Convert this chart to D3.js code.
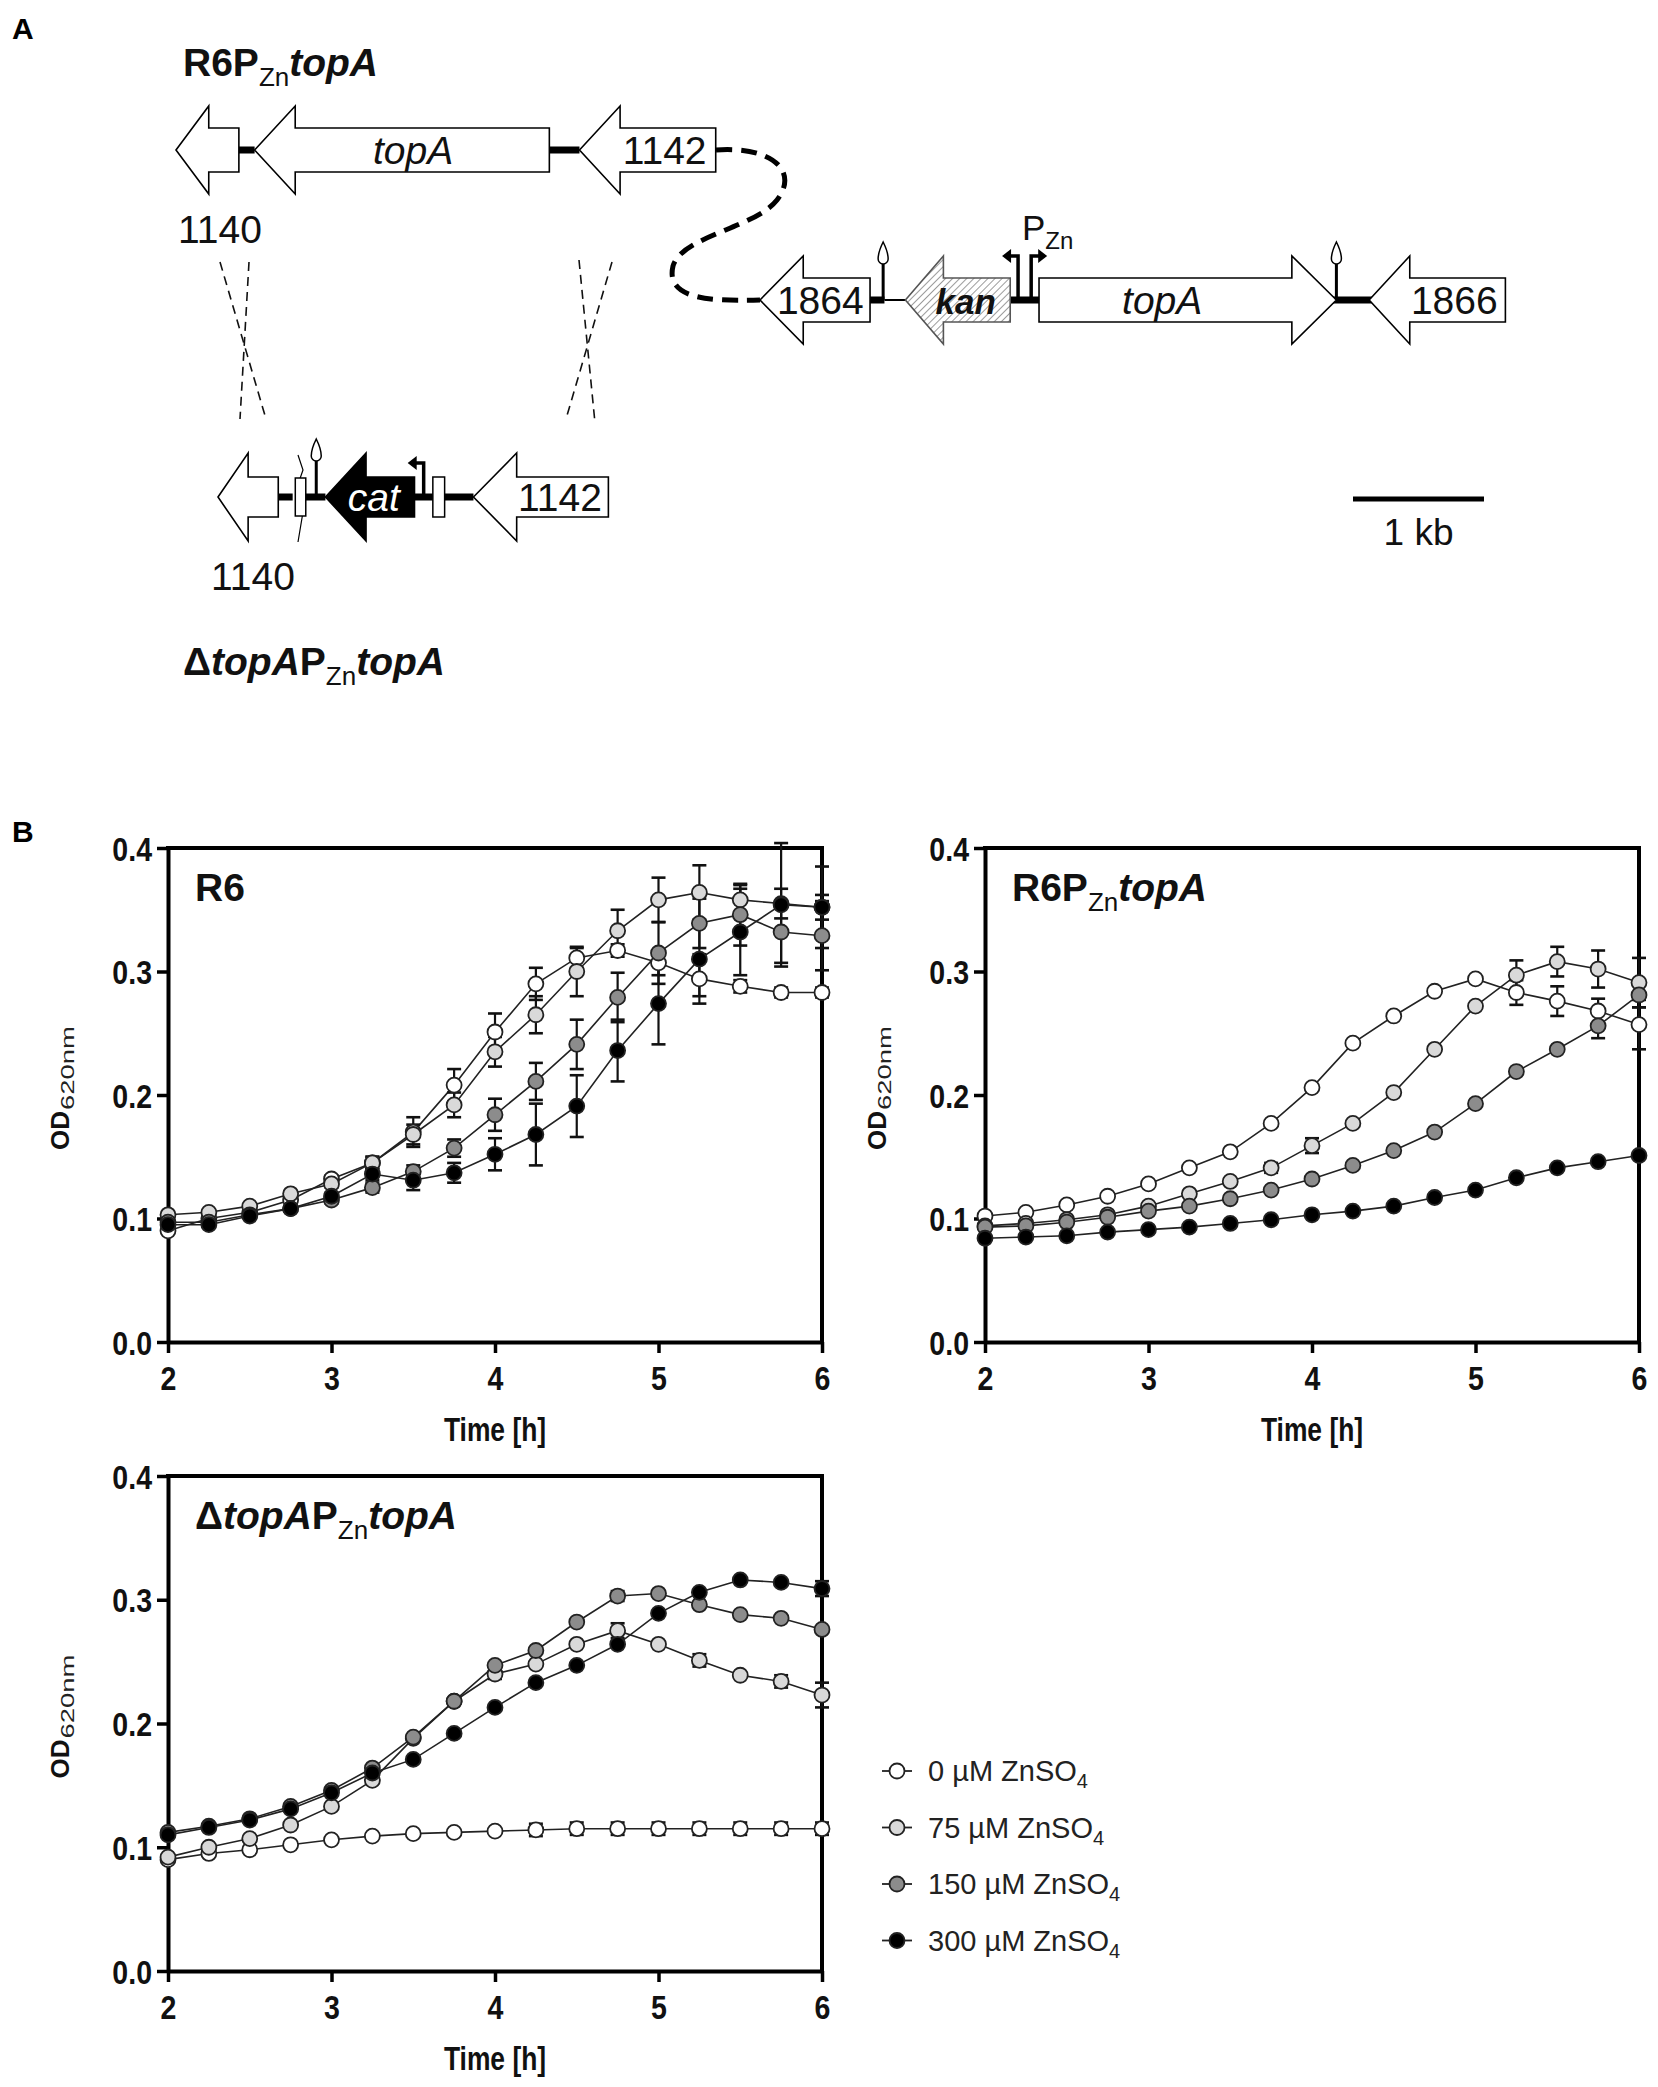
<!DOCTYPE html>
<html>
<head>
<meta charset="utf-8">
<script src="https://cdn.jsdelivr.net/npm/d3@7"></script>
<style>
body { margin: 0; background: #fff; }
svg text { font-family: "Liberation Sans", Arial, sans-serif; }
</style>
</head>
<body>
<svg id="fig" width="1658" height="2087"></svg>
<script>
// ---- growth curves (OD620nm), time in h ----
const times = [2, 2.25, 2.5, 2.75, 3, 3.25, 3.5, 3.75, 4, 4.25, 4.5, 4.75, 5, 5.25, 5.5, 5.75, 6];
const zincConc = [0, 75, 150, 300];
const markerFills = ["#ffffff", "#d9d9d9", "#8c8c8c", "#000000"];

// R6
const r6Mean0   = [0.090, 0.100, 0.105, 0.115, 0.132, 0.145, 0.170, 0.208, 0.251, 0.290, 0.311, 0.317, 0.307, 0.294, 0.288, 0.283, 0.283];
const r6Sd0     = [0, 0, 0, 0, 0.003, 0.005, 0.012, 0.013, 0.015, 0.013, 0.008, 0.005, 0.010, 0.020, 0.005, 0.004, 0.004];
const r6Mean75  = [0.103, 0.105, 0.110, 0.120, 0.128, 0.145, 0.168, 0.192, 0.235, 0.265, 0.300, 0.333, 0.358, 0.364, 0.358, 0.355, 0.352];
const r6Sd75    = [0, 0, 0, 0, 0.003, 0.005, 0.008, 0.010, 0.012, 0.015, 0.020, 0.017, 0.018, 0.022, 0.012, 0.012, 0.010];
const r6Mean150 = [0.097, 0.097, 0.103, 0.108, 0.115, 0.125, 0.138, 0.157, 0.184, 0.211, 0.241, 0.279, 0.315, 0.339, 0.346, 0.332, 0.329];
const r6Sd150   = [0, 0, 0, 0, 0.003, 0.004, 0.005, 0.007, 0.013, 0.015, 0.020, 0.020, 0.025, 0.020, 0.025, 0.025, 0.028];
const r6Mean300 = [0.095, 0.095, 0.102, 0.108, 0.118, 0.136, 0.131, 0.137, 0.152, 0.168, 0.191, 0.236, 0.274, 0.310, 0.332, 0.354, 0.352];
const r6Sd300   = [0, 0, 0, 0, 0.003, 0.005, 0.008, 0.008, 0.013, 0.025, 0.025, 0.025, 0.033, 0.030, 0.035, 0.050, 0.033];

// R6 PZn topA
const pzMean0   = [0.102, 0.105, 0.111, 0.118, 0.128, 0.141, 0.154, 0.177, 0.206, 0.242, 0.264, 0.284, 0.294, 0.283, 0.276, 0.268, 0.257];
const pzSd0     = [0, 0, 0, 0, 0, 0, 0, 0, 0, 0, 0, 0, 0, 0.010, 0.012, 0.010, 0.020];
const pzMean75  = [0.094, 0.096, 0.099, 0.103, 0.110, 0.120, 0.130, 0.141, 0.159, 0.177, 0.202, 0.237, 0.272, 0.297, 0.308, 0.302, 0.291];
const pzSd75    = [0, 0, 0, 0, 0, 0, 0, 0.004, 0.006, 0, 0, 0, 0, 0.012, 0.012, 0.015, 0.020];
const pzMean150 = [0.093, 0.094, 0.097, 0.101, 0.106, 0.110, 0.116, 0.123, 0.132, 0.143, 0.155, 0.170, 0.193, 0.219, 0.237, 0.256, 0.281];
const pzSd150   = [0, 0, 0, 0, 0, 0, 0, 0, 0, 0, 0, 0, 0, 0, 0, 0.010, 0.010];
const pzMean300 = [0.084, 0.085, 0.086, 0.089, 0.091, 0.093, 0.096, 0.099, 0.103, 0.106, 0.110, 0.117, 0.123, 0.133, 0.141, 0.146, 0.151];
const pzSd300   = [0, 0, 0, 0, 0, 0, 0, 0, 0, 0, 0, 0, 0, 0, 0, 0, 0];

// delta topA PZn topA
const dtMean0   = [0.090, 0.095, 0.098, 0.102, 0.106, 0.109, 0.111, 0.112, 0.113, 0.114, 0.115, 0.115, 0.115, 0.115, 0.115, 0.115, 0.115];
const dtSd0     = [0, 0, 0, 0, 0, 0, 0, 0, 0, 0.005, 0.005, 0.005, 0.005, 0.005, 0.005, 0.005, 0.005];
const dtMean75  = [0.092, 0.100, 0.107, 0.118, 0.133, 0.154, 0.188, 0.218, 0.240, 0.248, 0.264, 0.275, 0.264, 0.251, 0.239, 0.234, 0.223];
const dtSd75    = [0, 0, 0, 0, 0, 0, 0, 0, 0.004, 0, 0, 0.006, 0, 0.005, 0, 0.005, 0.010];
const dtMean150 = [0.112, 0.117, 0.123, 0.133, 0.146, 0.164, 0.189, 0.218, 0.247, 0.259, 0.282, 0.303, 0.305, 0.296, 0.288, 0.285, 0.276];
const dtSd150   = [0, 0, 0, 0, 0, 0, 0, 0, 0, 0, 0, 0.004, 0, 0, 0, 0, 0];
const dtMean300 = [0.110, 0.116, 0.122, 0.131, 0.144, 0.160, 0.171, 0.192, 0.213, 0.233, 0.247, 0.264, 0.289, 0.306, 0.316, 0.314, 0.309];
const dtSd300   = [0, 0, 0, 0, 0, 0, 0, 0, 0, 0, 0, 0, 0, 0, 0, 0, 0.006];

const yTicks = [0, 0.1, 0.2, 0.3, 0.4];
const xTicks = [2, 3, 4, 5, 6];

var svg = d3.select("#fig");

// ================= panel A: gene maps =================
var kb = d3.scaleLinear().domain([0, 1]).range([0, 131]);   // 1 kb bar

var rowTop = {x0: 176, y: 150, bh: 22, hh: 44};
var rowIns = {x0: 760, y: 300, bh: 22, hh: 44};
var rowDel = {x0: 218, y: 497, bh: 20, hh: 44};

var genesTop = [
  {a: 0.00, b: 0.48, dir: -1, hl: 0.25, label: null},
  {a: 0.60, b: 2.85, dir: -1, hl: 0.31, label: "topA", lx: 1.81, style: "italic"},
  {a: 3.08, b: 4.12, dir: -1, hl: 0.31, label: "1142", lx: 3.73}
];
var genesIns = [
  {a: 0.00, b: 0.84, dir: -1, hl: 0.33, label: "1864", lx: 0.46},
  {a: 1.11, b: 1.91, dir: -1, hl: 0.29, label: "kan", lx: 1.57, style: "bolditalic", hatch: true},
  {a: 2.13, b: 4.40, dir: 1, hl: 0.34, label: "topA", lx: 3.07, style: "italic"},
  {a: 4.65, b: 5.69, dir: -1, hl: 0.31, label: "1866", lx: 5.30}
];
var genesDel = [
  {a: 0.00, b: 0.46, dir: -1, hl: 0.23, label: null},
  {a: 0.82, b: 1.50, dir: -1, hl: 0.31, label: "cat", lx: 1.19, style: "italic", black: true},
  {a: 1.95, b: 2.98, dir: -1, hl: 0.33, label: "1142", lx: 2.61}
];
var linksTop = [[0.48, 0.60], [2.85, 3.08]];
var linksIns = [[0.84, 0.95], [1.91, 2.13], [4.37, 4.67]];
var linksDel = [[0.46, 0.57], [0.67, 0.82], [1.50, 1.64], [1.73, 1.95]];

var defs = svg.append("defs");
var hatch = defs.append("pattern").attr("id", "hatch").attr("patternUnits", "userSpaceOnUse")
  .attr("width", 5).attr("height", 5).attr("patternTransform", "rotate(45)");
hatch.append("rect").attr("width", 5).attr("height", 5).attr("fill", "#fff");
hatch.append("line").attr("x1", 0).attr("y1", 0).attr("x2", 0).attr("y2", 5).attr("stroke", "#666").attr("stroke-width", 1.3);

var gA = svg.append("g");

function drawLinks(row, links, h) {
  links.forEach(function(l) {
    gA.append("rect").attr("x", row.x0 + kb(l[0])).attr("y", row.y - h / 2)
      .attr("width", kb(l[1] - l[0])).attr("height", h).attr("fill", "#000");
  });
}

function drawGene(row, gn) {
  var L = row.x0 + kb(gn.a), R = row.x0 + kb(gn.b), hl = kb(gn.hl), yc = row.y, bh = row.bh, hh = row.hh;
  var p;
  if (gn.dir < 0) p = [[L, yc], [L + hl, yc - hh], [L + hl, yc - bh], [R, yc - bh], [R, yc + bh], [L + hl, yc + bh], [L + hl, yc + hh]];
  else p = [[R, yc], [R - hl, yc - hh], [R - hl, yc - bh], [L, yc - bh], [L, yc + bh], [R - hl, yc + bh], [R - hl, yc + hh]];
  gA.append("path").attr("d", "M" + p.join("L") + "Z")
    .attr("fill", gn.black ? "#000" : (gn.hatch ? "url(#hatch)" : "#fff"))
    .attr("stroke", gn.hatch ? "#555" : "#000").attr("stroke-width", 1.6);
  if (gn.label) {
    var t = gA.append("text").attr("x", row.x0 + kb(gn.lx)).attr("y", yc + 14)
      .attr("text-anchor", "middle").style("font-size", "39px")
      .attr("fill", gn.black ? "#fff" : "#111").text(gn.label);
    if (gn.style == "italic") t.style("font-style", "italic");
    if (gn.style == "bolditalic") t.style("font-style", "italic").style("font-weight", "bold").style("font-size", "35px");
  }
}

function terminator(row, pos) {
  var x = row.x0 + kb(pos), y0 = row.y - 58;
  gA.append("line").attr("x1", x).attr("x2", x).attr("y1", row.y).attr("y2", y0 + 22)
    .attr("stroke", "#000").attr("stroke-width", 3);
  gA.append("path")
    .attr("d", "M" + x + "," + y0 + " C" + (x + 3) + "," + (y0 + 6) + " " + (x + 5) + "," + (y0 + 12) + " " + (x + 5) + "," + (y0 + 17) +
      " A5,5 0 0 1 " + (x - 5) + "," + (y0 + 17) + " C" + (x - 5) + "," + (y0 + 12) + " " + (x - 3) + "," + (y0 + 6) + " " + x + "," + y0 + "Z")
    .attr("fill", "#fff").attr("stroke", "#000").attr("stroke-width", 1.5);
}

function promoter(row, pos, dir, h) {
  var x = row.x0 + kb(pos), yt = row.y - h;
  gA.append("path").attr("d", "M" + x + "," + row.y + "V" + yt + "H" + (x + dir * 9))
    .attr("fill", "none").attr("stroke", "#000").attr("stroke-width", 3.5);
  gA.append("path").attr("d", "M" + (x + dir * 16) + "," + yt + "L" + (x + dir * 7) + "," + (yt - 7) + "L" + (x + dir * 7) + "," + (yt + 7) + "Z")
    .attr("fill", "#000");
}

// top map: R6 PZn topA
drawLinks(rowTop, linksTop, 7);
genesTop.forEach(function(gn) { drawGene(rowTop, gn); });
gA.append("text").attr("x", 220).attr("y", 243).attr("text-anchor", "middle").style("font-size", "39px").attr("fill", "#111").text("1140");

// insertion at the bgaA locus
drawLinks(rowIns, linksIns, 7);
gA.append("line").attr("x1", rowIns.x0 + kb(0.95)).attr("x2", rowIns.x0 + kb(1.12)).attr("y1", rowIns.y).attr("y2", rowIns.y)
  .attr("stroke", "#000").attr("stroke-width", 2);
genesIns.forEach(function(gn) { drawGene(rowIns, gn); });
terminator(rowIns, 0.94);
terminator(rowIns, 4.40);
promoter(rowIns, 1.97, -1, 44);
promoter(rowIns, 2.07, 1, 44);
gA.append("text").attr("x", 1022).attr("y", 240).style("font-size", "35px").attr("fill", "#111")
  .text("P").append("tspan").attr("dy", 9).style("font-size", "24px").text("Zn");

// deletion map
drawLinks(rowDel, linksDel, 7);
gA.append("path").attr("d", "M298,455 L303,470 L296,490 L303,512 L298,542").attr("fill", "none").attr("stroke", "#000").attr("stroke-width", 1.2);
gA.append("rect").attr("x", rowDel.x0 + kb(0.59)).attr("y", rowDel.y - 19).attr("width", kb(0.08)).attr("height", 38)
  .attr("fill", "#fff").attr("stroke", "#000").attr("stroke-width", 1.5);
genesDel.forEach(function(gn) { drawGene(rowDel, gn); });
gA.append("rect").attr("x", rowDel.x0 + kb(1.64)).attr("y", rowDel.y - 20).attr("width", kb(0.09)).attr("height", 40)
  .attr("fill", "#fff").attr("stroke", "#000").attr("stroke-width", 1.5);
terminator(rowDel, 0.75);
promoter(rowDel, 1.57, -1, 34);
gA.append("text").attr("x", 253).attr("y", 590).attr("text-anchor", "middle").style("font-size", "39px").attr("fill", "#111").text("1140");

// recombination crosses
[[220, 262, 266, 419], [249, 262, 240, 419], [579, 260, 595, 423], [612, 262, 566, 419]].forEach(function(c) {
  gA.append("line").attr("x1", c[0]).attr("y1", c[1]).attr("x2", c[2]).attr("y2", c[3])
    .attr("stroke", "#111").attr("stroke-width", 1.6).attr("stroke-dasharray", "9,6");
});

// dashed connector between maps
gA.append("path")
  .attr("d", "M716,150 C770,146 800,170 777,200 C755,228 682,236 673,266 C666,296 700,302 760,300")
  .attr("fill", "none").attr("stroke", "#000").attr("stroke-width", 5).attr("stroke-dasharray", "16,9");

// scale bar
gA.append("line").attr("x1", 1353).attr("x2", 1353 + kb(1)).attr("y1", 499).attr("y2", 499).attr("stroke", "#000").attr("stroke-width", 5);
gA.append("text").attr("x", 1353 + kb(0.5)).attr("y", 545).attr("text-anchor", "middle").style("font-size", "37px").attr("fill", "#111").text("1 kb");

// strain titles
function strainTitle(g, x, y, parts, size) {
  var t = g.append("text").attr("x", x).attr("y", y).style("font-size", size + "px").style("font-weight", "bold").attr("fill", "#111");
  var shift = 0;
  parts.forEach(function(p) {
    var s = t.append("tspan").text(p.t);
    if (p.sub) { s.attr("dy", 10 - shift).style("font-size", "26px").style("font-weight", "normal"); shift = 10; }
    else { s.attr("dy", -shift); shift = 0; }
    if (p.it) s.style("font-style", "italic");
  });
}
var titleR6 = [{t: "R6"}];
var titlePz = [{t: "R6P"}, {t: "Zn", sub: true}, {t: "topA", it: true}];
var titleDt = [{t: "\u0394"}, {t: "topA", it: true}, {t: "P"}, {t: "Zn", sub: true}, {t: "topA", it: true}];

strainTitle(gA, 183, 76, titlePz, 39);
strainTitle(gA, 183, 675, titleDt, 39);

svg.append("text").attr("x", 12).attr("y", 39).style("font-size", "30px").style("font-weight", "bold").text("A");
svg.append("text").attr("x", 12).attr("y", 842).style("font-size", "30px").style("font-weight", "bold").text("B");

// ================= panel B: growth curves =================
var charts = [
  {left: 168, right: 822, top: 848, bottom: 1342, title: titleR6,
   means: [r6Mean0, r6Mean75, r6Mean150, r6Mean300], sds: [r6Sd0, r6Sd75, r6Sd150, r6Sd300]},
  {left: 985, right: 1639, top: 848, bottom: 1342, title: titlePz,
   means: [pzMean0, pzMean75, pzMean150, pzMean300], sds: [pzSd0, pzSd75, pzSd150, pzSd300]},
  {left: 168, right: 822, top: 1476, bottom: 1971, title: titleDt,
   means: [dtMean0, dtMean75, dtMean150, dtMean300], sds: [dtSd0, dtSd75, dtSd150, dtSd300]}
];

var sx = 0.84;   // narrow bold look of the axis lettering

charts.forEach(function(c) {
  var g = svg.append("g");
  var x = d3.scaleLinear().domain([2, 6]).range([c.left, c.right]);
  var y = d3.scaleLinear().domain([0, 0.4]).range([c.bottom, c.top]);

  var ax = g.append("g").attr("transform", "translate(" + c.left + ",0)")
    .call(d3.axisLeft(y).tickValues(yTicks).tickFormat(d3.format(".1f")).tickSize(11).tickSizeOuter(0));
  var bx = g.append("g").attr("transform", "translate(0," + c.bottom + ")")
    .call(d3.axisBottom(x).tickValues(xTicks).tickFormat(d3.format("d")).tickSize(11).tickSizeOuter(0));
  [ax, bx].forEach(function(a) {
    a.attr("font-family", null).attr("font-size", null);
    a.select(".domain").attr("stroke", "#000").attr("stroke-width", 4);
    a.selectAll(".tick line").attr("stroke", "#000").attr("stroke-width", 3.5);
    a.selectAll("text").attr("fill", "#111").style("font-size", "34px").style("font-weight", "bold")
      .attr("transform", "scale(" + sx + ",1)");
  });
  ax.selectAll("text").attr("x", -16 / sx).attr("dy", "0.36em");
  bx.selectAll("text").attr("y", 48).attr("dy", 0);

  // box frame
  g.append("path").attr("d", "M" + (c.left - 2) + "," + c.top + "H" + c.right + "V" + (c.bottom + 2))
    .attr("fill", "none").attr("stroke", "#000").attr("stroke-width", 4);

  // axis titles
  g.append("text").attr("transform", "translate(" + ((c.left + c.right) / 2) + "," + (c.bottom + 99) + ") scale(0.8,1)")
    .attr("text-anchor", "middle").style("font-size", "33px").style("font-weight", "bold").attr("fill", "#111").text("Time [h]");
  var mid = (c.top + c.bottom) / 2;
  var od = g.append("g").attr("transform", "translate(" + (c.left - 99) + "," + (mid + 55) + ") rotate(-90)");
  od.append("text").attr("x", 0).attr("y", 0).style("font-size", "26px").style("font-weight", "bold").attr("fill", "#111").text("OD");
  od.append("text").attr("x", 40).attr("y", 5).attr("textLength", 84).attr("lengthAdjust", "spacingAndGlyphs")
    .style("font-size", "19px").attr("fill", "#222").text("620nm");

  strainTitle(g, c.left + 27, c.top + 53, c.title, 39);

  var line = d3.line().x(function(d, i) { return x(times[i]); }).y(function(d) { return y(d); });

  c.means.forEach(function(m) {
    g.append("path").datum(m).attr("d", line).attr("fill", "none").attr("stroke", "#222").attr("stroke-width", 1.6);
  });
  c.means.forEach(function(m, k) {
    var sd = c.sds[k];
    m.forEach(function(v, i) {
      if (!sd[i]) return;
      var xx = x(times[i]);
      g.append("line").attr("x1", xx).attr("x2", xx).attr("y1", y(v - sd[i])).attr("y2", y(v + sd[i]))
        .attr("stroke", "#111").attr("stroke-width", 2.2);
      [v - sd[i], v + sd[i]].forEach(function(e) {
        g.append("line").attr("x1", xx - 7).attr("x2", xx + 7).attr("y1", y(e)).attr("y2", y(e))
          .attr("stroke", "#111").attr("stroke-width", 2.6);
      });
    });
  });
  c.means.forEach(function(m, k) {
    g.selectAll(null).data(m).enter().append("circle")
      .attr("cx", function(d, i) { return x(times[i]); }).attr("cy", function(d) { return y(d); })
      .attr("r", 7.5).attr("fill", markerFills[k]).attr("stroke", "#222").attr("stroke-width", 1.8);
  });
});

// legend
var leg = svg.append("g");
zincConc.forEach(function(z, k) {
  var yy = 1771 + k * 56.5;
  leg.append("line").attr("x1", 882).attr("x2", 912).attr("y1", yy).attr("y2", yy).attr("stroke", "#222").attr("stroke-width", 1.8);
  leg.append("circle").attr("cx", 897).attr("cy", yy).attr("r", 7.5).attr("fill", markerFills[k]).attr("stroke", "#222").attr("stroke-width", 1.8);
  var t = leg.append("text").attr("x", 928).attr("y", yy + 10).style("font-size", "29px").attr("fill", "#222").text(z + " \u00b5M ZnSO");
  t.append("tspan").attr("dy", 7).style("font-size", "20px").text("4");
});
</script>
</body>
</html>
